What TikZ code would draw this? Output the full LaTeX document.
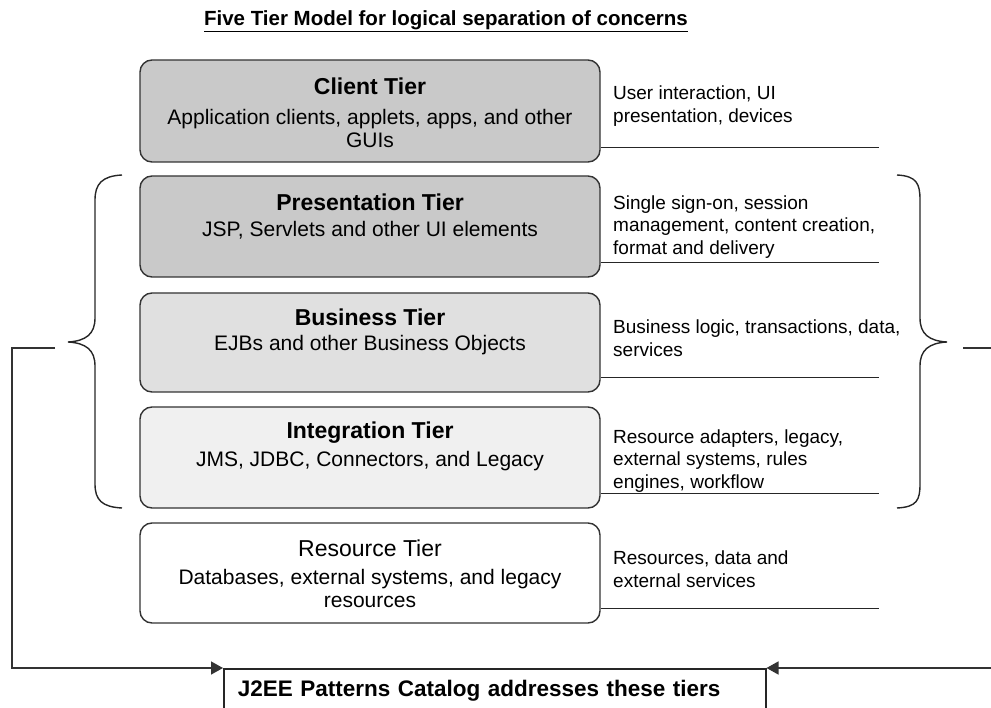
\documentclass[tikz,border=0pt]{standalone}
\usepackage{fontspec}
\setmainfont{Liberation Sans}
\usetikzlibrary{arrows.meta}
\tikzset{
  tierbox/.style={draw=black!80, line width=1.4pt, rounded corners=12pt, minimum width=460pt, inner sep=0pt},
  tiertitle/.style={font=\fontsize{23}{26}\selectfont\bfseries, inner sep=0pt},
  tiersub/.style={font=\fontsize{21}{23}\selectfont, align=center, inner sep=0pt},
  concern/.style={font=\fontsize{19}{22.5}\selectfont, align=left, anchor=west, inner sep=0pt},
  rule/.style={draw=black!85, line width=1.4pt},
  brace/.style={draw=black!85, line width=1.4pt},
  conn/.style={draw=black!80, line width=1.5pt},
  tip/.style={-{Triangle[length=12pt,width=13pt]}}
}
\begin{document}
\begin{tikzpicture}[x=1pt,y=-1pt]
\useasboundingbox (0,0) rectangle (991,708);
\clip (0,0) rectangle (991,708);

% title
\node[font=\fontsize{20.5}{24}\selectfont\bfseries, inner sep=0pt] (title) at (446,21) {\underline{Five Tier Model for logical separation of concerns}};

% tier boxes
\node[tierbox, fill=black!21, minimum height=102pt] (client) at (370,111) {};
\node[tierbox, fill=black!21, minimum height=101pt] (pres) at (370,226.5) {};
\node[tierbox, fill=black!12, minimum height=99pt] (bus) at (370,342.5) {};
\node[tierbox, fill=black!6, minimum height=101pt] (integ) at (370,457.5) {};
\node[tierbox, fill=white, minimum height=100pt] (res) at (370,573) {};

% tier texts
\node[tiertitle] (clientT) at (370,86) {Client Tier};
\node[tiersub] (clientS) at (370,128) {Application clients, applets, apps, and other\\GUIs};
\node[tiertitle] (presT) at (370,202) {Presentation Tier};
\node[tiersub] (presS) at (370,230) {JSP, Servlets and other UI elements};
\node[tiertitle] (busT) at (370,317) {Business Tier};
\node[tiersub] (busS) at (370,345) {EJBs and other Business Objects};
\node[tiertitle] (integT) at (370,433) {Integration Tier};
\node[tiersub] (integS) at (370,461) {JMS, JDBC, Connectors, and Legacy};
\node[tiertitle, font=\fontsize{23}{26}\selectfont] (resT) at (370,548) {Resource Tier};
\node[tiersub] (resS) at (370,588) {Databases, external systems, and legacy\\resources};

% concern texts
\node[concern] (clientC) at (613,106) {User interaction, UI\\presentation, devices};
\node[concern] (presC) at (613,227) {Single sign-on, session\\management, content creation,\\format and delivery};
\node[concern] (busC) at (613,338) {Business logic, transactions, data,\\services};
\node[concern] (integC) at (613,461) {Resource adapters, legacy,\\external systems, rules\\engines, workflow};
\node[concern] (resC) at (613,569) {Resources, data and\\external services};

% rules under concerns
\foreach \n in {client,pres,bus,integ,res}{
  \draw[rule] ([yshift=15pt]\n.south east) -- ++(278,0);
}

% braces
\draw[brace] (122,175) .. controls (102,176) and (95,184) .. (95,200) -- (95,318)
  .. controls (95,334) and (86,341) .. (68,342)
  .. controls (86,343) and (95,350) .. (95,366) -- (95,484)
  .. controls (95,500) and (102,507) .. (122,508);
\draw[brace] (897,175) .. controls (917,176) and (920,184) .. (920,200) -- (920,318)
  .. controls (920,334) and (929,341) .. (947,342)
  .. controls (929,343) and (920,350) .. (920,366) -- (920,484)
  .. controls (920,500) and (917,507) .. (897,508);

% catalog box
\node[draw=black!85, line width=1.5pt, fill=white, anchor=north west, minimum width=542pt, minimum height=44pt,
      inner xsep=14pt, text width=514pt, align=left, font=\fontsize{22.5}{26}\selectfont\bfseries] (catalog) at (223,668)
  {J2EE Patterns Catalog addresses these tiers};

% connectors
\coordinate (lstart) at (55,348);
\coordinate (rstart) at (963,348);
\coordinate (rcorner) at (993,348);
\draw[conn, tip] (lstart) -- (12,348) |- (catalog.north west);
\draw[conn, tip] (rstart) -- (rcorner) |- (catalog.north east);
\end{tikzpicture}
\end{document}
